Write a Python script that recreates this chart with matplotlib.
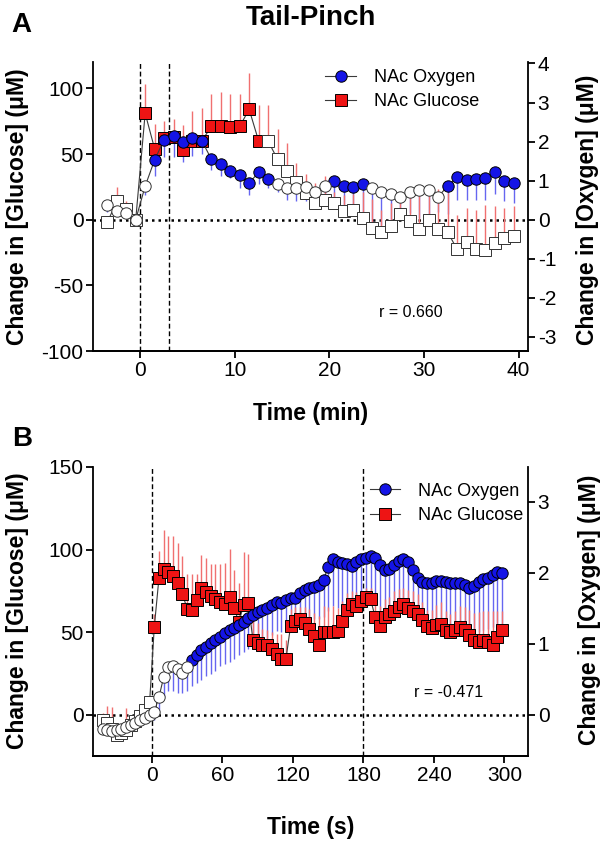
import numpy as np
import matplotlib
matplotlib.use('Agg')
import matplotlib.pyplot as plt
from matplotlib.lines import Line2D

plt.rcParams['font.family'] = ['Liberation Sans', 'DejaVu Sans']
plt.rcParams['axes.unicode_minus'] = False

BLUE = '#1414e6'
RED = '#ee1414'
BLUE_BAR = '#6666f0'
RED_BAR = '#f07070'
LINE = '#3a3a3a'

# ---- panel A: tail-pinch, 1-min bins ----
timeA = [-3.5, -2.5, -1.5, -0.5, 0.5, 1.5, 2.5, 3.5, 4.5, 5.5, 6.5, 7.5, 8.5, 9.5, 10.5,
         11.5, 12.5, 13.5, 14.5, 15.5, 16.5, 17.5, 18.5, 19.5, 20.5, 21.5, 22.5, 23.5,
         24.5, 25.5, 26.5, 27.5, 28.5, 29.5, 30.5, 31.5, 32.5, 33.5, 34.5, 35.5, 36.5,
         37.5, 38.5, 39.5]
glucoseA = [-2, 14, 8, 0, 81, 54, 62, 63, 53, 60, 60, 71, 71, 70.5, 71, 84, 60, 60, 46, 37,
            29, 20, 13, 15, 13, 6.5, 7.5, 1, -6, -9, -4.5, 4, -1, -7, 0, -7, -9.5, -22.5,
            -17, -22.5, -23, -17.5, -14, -12.5]
glucoseSemA = [5, 11, 6, 3, 22, 19, 13, 14, 19, 23, 25, 24.5, 26, 25, 24.5, 28, 27, 27, 23, 21,
               14, 15, 15, 18, 8, 12, 12, 20, 22, 16, 17, 15, 20, 26, 22, 30, 30, 26, 26, 30,
               34, 28, 23, 23]
oxygenA = [0.37, 0.23, 0.18, 0.0, 0.86, 1.53, 2.05, 2.15, 1.98, 2.09, 2.02, 1.55, 1.43, 1.24,
           1.14, 0.94, 1.21, 1.03, 0.92, 0.81, 0.81, 0.84, 0.71, 0.86, 0.99, 0.87, 0.84, 0.92,
           0.81, 0.71, 0.67, 0.59, 0.71, 0.76, 0.76, 0.59, 0.86, 1.09, 1.01, 1.04, 1.06, 1.21,
           0.98, 0.94]
oxygenSemA = [0.17, 0.10, 0.10, 0.07, 0.22, 0.40, 0.44, 0.54, 0.50, 0.45, 0.34, 0.27, 0.32,
              0.17, 0.34, 0.30, 0.30, 0.22, 0.22, 0.30, 0.34, 0.37, 0.24, 0.47, 0.49, 0.62,
              0.59, 0.76, 0.98, 0.84, 0.71, 0.50, 0.54, 0.72, 0.62, 0.39, 0.72, 0.59, 0.50,
              0.54, 0.55, 0.54, 0.50, 0.52]
glucoseSigA = [(0.5, 12.5)]
oxygenSigA = [(1.5, 13.5), (20.5, 23.5), (32.5, 39.5)]
eventsA = [0, 3]

# ---- panel B: tail-pinch, 4-s bins ----
timeB = [-42, -38, -34, -30, -26, -22, -18, -14, -10, -6, -2, 2, 6, 10, 14, 18, 22, 26, 30,
         34, 38, 42, 46, 50, 54, 58, 62, 66, 70, 74, 78, 82, 86, 90, 94, 98, 102, 106, 110,
         114, 118, 122, 126, 130, 134, 138, 142, 146, 150, 154, 158, 162, 166, 170, 174, 178,
         182, 186, 190, 194, 198, 202, 206, 210, 214, 218, 222, 226, 230, 234, 238, 242, 246,
         250, 254, 258, 262, 266, 270, 274, 278, 282, 286, 290, 294, 298]
glucoseB = [-3, -5, -8.5, -12.5, -11, -9.5, -6.5, -4, -0.5, 3, 7.5,
            53, 83, 88, 86.5, 84, 80, 73, 64, 63.5, 69.5,
            76.5, 74, 72, 70, 68, 67, 71.5, 64.5, 56, 66.5,
            67.5, 45, 43.5, 42, 42, 40, 37, 34, 33.5, 54,
            57, 58, 55.5, 52, 47.5, 42, 50, 50, 50, 50.5,
            57, 63.5, 67, 66, 69, 71, 70, 59, 54, 59,
            61, 63, 65, 67, 64.5, 63, 61, 57.5, 53.5, 52.5,
            54.5, 55, 51, 50, 51, 53, 51.5, 48.5, 45.5, 44,
            45, 44, 42.5, 47, 51]
glucoseSemB = [4, 10, 13, 5, 5, 13.5, 4, 4, 3, 3, 4,
               8, 16, 24, 22, 24, 24, 23, 21, 22, 16,
               20, 21, 19, 21, 23, 25, 29, 23, 24, 32,
               30, 20, 12, 10, 9, 10, 12, 15, 12, 10,
               8, 7, 10, 12, 14, 18, 16, 15, 16, 14,
               12, 10, 8, 8, 6, 6, 7, 10, 12, 11,
               10, 12, 11, 10, 11, 12, 12, 11, 10, 11,
               12, 13, 12, 11, 12, 13, 14, 15, 16, 18,
               18, 19, 20, 16, 12]
oxygenB = [-0.20, -0.22, -0.23, -0.22, -0.20, -0.18, -0.14, -0.11, -0.07, -0.04, 0.00,
           0.04, 0.25, 0.53, 0.67, 0.68, 0.64, 0.59, 0.67, 0.77, 0.84,
           0.91, 0.96, 1.01, 1.05, 1.10, 1.15, 1.19, 1.22, 1.26, 1.31,
           1.36, 1.41, 1.44, 1.48, 1.50, 1.55, 1.59, 1.57, 1.62, 1.64,
           1.65, 1.71, 1.76, 1.79, 1.80, 1.83, 1.90, 2.08, 2.19, 2.15,
           2.13, 2.12, 2.10, 2.15, 2.19, 2.21, 2.24, 2.20, 2.11, 2.04,
           2.05, 2.11, 2.17, 2.19, 2.15, 2.04, 1.92, 1.87, 1.86, 1.86,
           1.88, 1.88, 1.87, 1.86, 1.86, 1.85, 1.83, 1.79, 1.81, 1.87,
           1.91, 1.93, 1.97, 2.01, 1.99]
oxygenSemB = [0.07, 0.07, 0.07, 0.07, 0.07, 0.07, 0.07, 0.07, 0.07, 0.07, 0.07,
              0.12, 0.19, 0.28, 0.33, 0.35, 0.33, 0.28, 0.33, 0.37, 0.40,
              0.42, 0.41, 0.43, 0.44, 0.42, 0.43, 0.45, 0.44, 0.42, 0.43,
              0.44, 0.42, 0.41, 0.40, 0.42, 0.43, 0.41, 0.40, 0.42, 0.44,
              0.43, 0.45, 0.44, 0.46, 0.45, 0.48, 0.52, 0.62, 0.66, 0.65,
              0.64, 0.66, 0.65, 0.67, 0.68, 0.68, 0.69, 0.66, 0.64, 0.63,
              0.65, 0.67, 0.68, 0.66, 0.63, 0.62, 0.63, 0.64, 0.65, 0.66,
              0.64, 0.63, 0.64, 0.65, 0.66, 0.65, 0.64, 0.66, 0.68, 0.70,
              0.72, 0.73, 0.74, 0.75, 0.74]
glucoseSigB = [(2, 298)]
oxygenSigB = [(34, 298)]
eventsB = [0, 180]


def sigMask(time, windows):
    t = np.asarray(time)
    mask = np.zeros(len(t), dtype=bool)
    for lo, hi in windows:
        mask |= (t >= lo) & (t <= hi)
    return mask


def drawPanel(ax, time, glu, gluSem, oxy, oxySem, gluSig, oxySig, events,
              xlim, gluLim, oxyLim):
    ax2 = ax.twinx()
    ax.set_xlim(xlim)
    ax.set_ylim(gluLim)
    ax2.set_ylim(oxyLim)

    t = np.asarray(time, dtype=float)
    g = np.asarray(glu, dtype=float)
    o = np.asarray(oxy, dtype=float)
    oTr = ax2.transData  # oxygen drawn in ax's stack but on the right scale

    ax.axhline(0, color='black', lw=1.8, ls=(0, (1, 1.6)), zorder=1)
    for e in events:
        ax.axvline(e, color='black', lw=1.0, ls=(0, (3.5, 2)), zorder=1)

    # SEM: oxygen below, glucose above
    ax.vlines(t, o - np.asarray(oxySem), o, colors=BLUE_BAR, lw=1.0, zorder=2, transform=oTr)
    ax.vlines(t, g, g + np.asarray(gluSem), colors=RED_BAR, lw=1.0, zorder=2.5)

    gm = sigMask(time, gluSig)
    ax.plot(t, g, color=LINE, lw=0.8, zorder=3)
    ax.plot(t[gm], g[gm], 's', ms=8, mfc=RED, mec='black', mew=0.7, zorder=4)
    ax.plot(t[~gm], g[~gm], 's', ms=8, mfc='white', mec='#333333', mew=0.7, zorder=4)

    om = sigMask(time, oxySig)
    ax.plot(t, o, color=LINE, lw=0.8, zorder=5, transform=oTr)
    ax.plot(t[om], o[om], 'o', ms=8.2, mfc=BLUE, mec='black', mew=0.7, zorder=6, transform=oTr)
    ax.plot(t[~om], o[~om], 'o', ms=8.2, mfc='white', mec='#333333', mew=0.7, zorder=6,
            transform=oTr)

    for a in (ax, ax2):
        a.spines['top'].set_visible(False)
        for s in a.spines.values():
            s.set_linewidth(1.3)
        a.tick_params(direction='out', length=5, width=1.3, labelsize=15, pad=2)
    ax.spines['right'].set_visible(False)
    ax2.spines['left'].set_visible(False)
    return ax2


def legendFor(ax, fig, anchor):
    handles = [Line2D([], [], color=LINE, lw=0.8, marker='o', ms=8.2, mfc=BLUE,
                      mec='black', mew=0.7),
               Line2D([], [], color=LINE, lw=0.8, marker='s', ms=8, mfc=RED,
                      mec='black', mew=0.7)]
    leg = ax.legend(handles, ['NAc Oxygen', 'NAc Glucose'], loc='upper left',
                    bbox_to_anchor=anchor, bbox_transform=fig.transFigure,
                    frameon=False, fontsize=13, handlelength=1.7, handletextpad=1.0,
                    labelspacing=0.4, borderpad=0, borderaxespad=0)
    leg.set_zorder(10)


def main():
    fig = plt.figure(figsize=(6.09, 8.5), dpi=100)

    axA = fig.add_axes([0.153, 0.587, 0.714, 0.340])
    axA2 = drawPanel(axA, timeA, glucoseA, glucoseSemA, oxygenA, oxygenSemA,
                     glucoseSigA, oxygenSigA, eventsA,
                     (-5, 41), (-100, 120), (-100 / 29.73, 120 / 29.73))
    axA.set_xticks([0, 10, 20, 30, 40])
    axA.set_yticks([-100, -50, 0, 50, 100])
    axA2.set_yticks([-3, -2, -1, 0, 1, 2, 3, 4])
    legendFor(axA, fig, (0.534, 0.919))
    fig.text(0.675, 0.632, 'r = 0.660', ha='center', va='center', fontsize=11.5)

    axB = fig.add_axes([0.153, 0.1106, 0.714, 0.340])
    axB2 = drawPanel(axB, timeB, glucoseB, glucoseSemB, oxygenB, oxygenSemB,
                     glucoseSigB, oxygenSigB, eventsB,
                     (-50, 320), (-25, 150), (-25 / 43, 150 / 43))
    axB.set_xticks([0, 60, 120, 180, 240, 300])
    axB.set_yticks([0, 50, 100, 150])
    axB2.set_yticks([0, 1, 2, 3])
    legendFor(axB, fig, (0.607, 0.432))
    fig.text(0.736, 0.185, 'r = -0.471', ha='center', va='center', fontsize=11.5)

    # labels
    fig.text(0.511, 0.979, 'Tail-Pinch', ha='center', va='center', fontsize=20, weight='bold')
    fig.text(0.035, 0.971, 'A', ha='center', va='center', fontsize=20, weight='bold')
    fig.text(0.037, 0.484, 'B', ha='center', va='center', fontsize=20, weight='bold')
    lab = dict(ha='center', va='center', fontsize=16.5, weight='bold')
    fig.text(0.029, 0.757, 'Change in [Glucose] (\u03bcM)', rotation=90, **lab)
    fig.text(0.965, 0.753, 'Change in [Oxygen] (\u03bcM)', rotation=90, **lab)
    fig.text(0.51, 0.514, 'Time (min)', **lab)
    fig.text(0.029, 0.281, 'Change in [Glucose] (\u03bcM)', rotation=90, **lab)
    fig.text(0.968, 0.282, 'Change in [Oxygen] (\u03bcM)', rotation=90, **lab)
    fig.text(0.51, 0.026, 'Time (s)', **lab)

    fig.savefig('out.png', dpi=100)
    return 0


main()
